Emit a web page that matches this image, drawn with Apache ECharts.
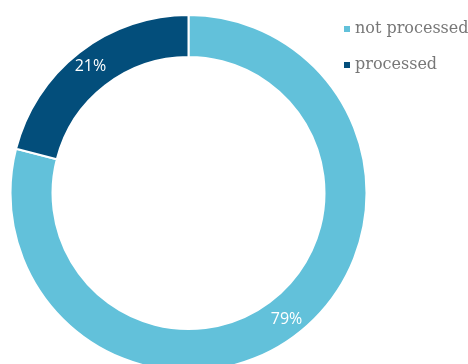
<!DOCTYPE html>
<html>
<head>
<meta charset="utf-8">
<script src="https://cdn.jsdelivr.net/npm/echarts@6/dist/echarts.min.js"></script>
<style>
  html, body { margin: 0; padding: 0; background: #fff; }
  #chart { width: 468px; height: 364px; }
</style>
</head>
<body>
<div id="chart"></div>
<script>
// Share of items by processing status
const categories = ['not processed', 'processed'];
const shares = [79, 21];
const colors = ['#62c1da', '#034e7b'];

const chart = echarts.init(document.getElementById('chart'), null, { renderer: 'canvas' });

chart.setOption({
  animation: false,
  color: colors,
  legend: {
    orient: 'vertical',
    left: 337,
    top: 16,
    icon: 'rect',
    itemWidth: 8,
    itemHeight: 8,
    itemGap: 20,
    data: categories,
    textStyle: {
      fontFamily: 'DejaVu Serif',
      fontSize: 16,
      color: '#777777',
      padding: [0, 0, 0, -1]
    }
  },
  series: [{
    type: 'pie',
    center: [188.5, 193],
    radius: [136, 178],
    startAngle: 90,
    clockwise: true,
    itemStyle: { borderColor: '#fff', borderWidth: 2 },
    label: {
      show: true,
      position: 'inside',
      formatter: '{c}%',
      color: '#fff',
      fontFamily: 'Open Sans',
      fontSize: 16
    },
    labelLine: { show: false },
    data: categories.map((name, i) => ({ name, value: shares[i] }))
  }]
});
</script>
</body>
</html>
